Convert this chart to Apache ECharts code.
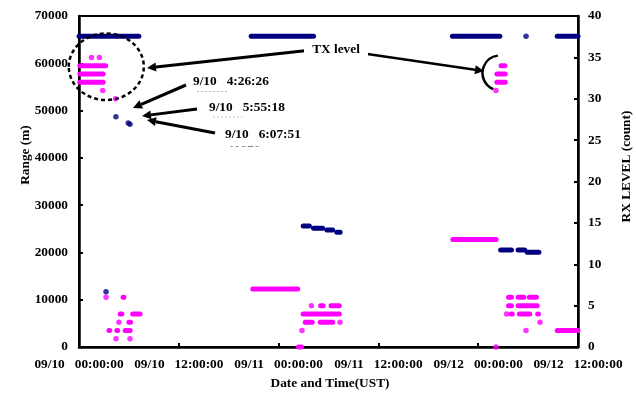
<!DOCTYPE html>
<html>
<head>
<meta charset="utf-8">
<script src="https://cdn.jsdelivr.net/npm/echarts@6/dist/echarts.min.js"></script>
<style>
html,body{margin:0;padding:0;background:#fff;}
#chart{width:636px;height:396px;}
</style>
</head>
<body>
<div id="chart"></div>
<script>
// ---- data (hours since 09/10 00:00:00 UST) ----
const xTickLabels = ['09/10   00:00:00','09/10   12:00:00','09/11   00:00:00','09/11   12:00:00','09/12   00:00:00','09/12   12:00:00'];

// Range (m): continuous runs [startHour, endHour, range]
const rangeSegments = [
  [0.0, 7.2, 65700], [20.7, 28.2, 65700], [44.9, 50.6, 65700], [57.5, 60.0, 65700],
  [26.95, 27.7, 25600], [28.2, 29.3, 25100], [29.8, 30.5, 24750], [31.0, 31.4, 24250],
  [50.7, 52.0, 20500], [52.8, 53.6, 20500], [53.9, 55.3, 20050]
];
// Range (m): isolated samples [hour, range]
const rangeDots = [[3.25, 11700], [4.44, 48700], [5.92, 47350], [6.13, 47100], [53.75, 65700]];

// RX level (count): continuous runs [startHour, endHour, count]
const rxSegments = [
  [0.1, 3.2, 34], [0.1, 2.9, 33], [0.1, 2.9, 32],
  [5.3, 5.4, 6], [4.95, 5.15, 4], [6.45, 7.35, 4], [6.0, 6.2, 3],
  [3.6, 3.7, 2], [4.55, 4.65, 2], [5.55, 6.15, 2],
  [20.9, 26.3, 7], [29.05, 29.35, 5], [30.3, 31.3, 5], [26.95, 31.3, 4],
  [27.2, 28.05, 3], [29.0, 30.5, 3], [26.4, 26.75, 0],
  [44.95, 50.15, 13], [51.65, 52.0, 6], [52.8, 53.5, 6], [54.15, 55.0, 6],
  [51.65, 52.0, 5], [52.8, 55.1, 5], [51.95, 52.1, 4], [52.95, 54.2, 4], [55.15, 55.25, 4],
  [57.5, 60.0, 2],
  [50.75, 51.2, 34], [50.25, 51.25, 33], [50.25, 51.25, 32]
];
// RX level (count): isolated samples [hour, count]
const rxDots = [
  [1.5, 35], [2.45, 35], [2.85, 31], [4.4, 30],
  [3.25, 6], [4.8, 3], [4.45, 1], [6.13, 1],
  [27.95, 5], [31.38, 3], [26.81, 2],
  [51.42, 4], [55.43, 3], [53.75, 2], [50.14, 0], [50.14, 31]
];

const FONT = '"Liberation Serif", "Times New Roman", serif';
const FS = 13.33;
const NAVY = '#000080';
const MAGENTA = '#ff00ff';

function segRenderer(color) {
  return function (params, api) {
    const p1 = api.coord([api.value(0), api.value(2)]);
    const p2 = api.coord([api.value(1), api.value(2)]);
    return {
      type: 'line',
      shape: {x1: p1[0], y1: p1[1], x2: p2[0], y2: p2[1]},
      style: {stroke: color, lineWidth: 5, lineCap: 'round', fill: null}
    };
  };
}

function arrow(x1, y1, x2, y2, w) {
  const dx = x2 - x1, dy = y2 - y1, len = Math.sqrt(dx*dx + dy*dy);
  const ux = dx/len, uy = dy/len, hl = 9, hw = 4.5;
  const bx = x2 - ux*hl, by = y2 - uy*hl;
  return [
    {type:'line', shape:{x1:x1, y1:y1, x2:bx, y2:by}, style:{stroke:'#000', lineWidth:w||3}, z:100},
    {type:'polygon', shape:{points:[[x2,y2],[bx - uy*hw, by + ux*hw],[bx + uy*hw, by - ux*hw]]}, style:{fill:'#000'}, z:100}
  ];
}

function txt(text, x, y, align, rot) {
  return {type:'text', x:x, y:y, rotation: rot||0, z:102,
    style:{text:text, fill:'#000', font:'bold ' + FS + 'px ' + FONT, textAlign: align||'left', textVerticalAlign:'middle'}};
}

const chart = echarts.init(document.getElementById('chart'), null, {renderer:'canvas'});

const axisLabelStyle = {color:'#000', fontFamily:FONT, fontWeight:'bold', fontSize:FS};

const graphic = [].concat(
  [{type:'ellipse', shape:{cx:106.3, cy:66.7, rx:37.5, ry:33.3}, style:{fill:null, stroke:'#000', lineWidth:2.5, lineDash:[4,3]}, z:100}],
  [{type:'arc', shape:{cx:500, cy:73, r:17.5, startAngle:1.96, endAngle:4.59, clockwise:true}, style:{stroke:'#000', lineWidth:2.5, fill:null}, z:100}],
  arrow(330, 48, 147, 68),
  arrow(340, 50, 484, 71, 2.5),
  arrow(186, 85, 133, 108),
  arrow(197, 109, 142, 116),
  arrow(215, 133, 147, 120),
  [{type:'rect', shape:{x:304, y:41, width:64, height:17}, style:{fill:'#fff'}, z:101}],
  [txt('TX level', 336, 50, 'center')],
  [txt('9/10   4:26:26', 193, 82)],
  [{type:'line', shape:{x1:197, y1:91.5, x2:228, y2:91.5}, style:{stroke:'#bbb', lineWidth:1, lineDash:[2,2]}, z:102}],
  [txt('9/10   5:55:18', 209, 107.5)],
  [{type:'line', shape:{x1:213, y1:117, x2:242, y2:117}, style:{stroke:'#bbb', lineWidth:1, lineDash:[2,2]}, z:102}],
  [txt('9/10   6:07:51', 225, 135)],
  [txt('40870', 227, 151)],
  [{type:'rect', shape:{x:220, y:146.5, width:50, height:12}, style:{fill:'#fff'}, z:103}],
  [txt('Range (m)', 26, 155, 'center', Math.PI/2)],
  [txt('RX LEVEL (count)', 627, 166.5, 'center', Math.PI/2)],
  [txt('Date and Time(UST)', 330, 384, 'center')]
);

chart.setOption({
  animation: false,
  backgroundColor: '#fff',
  grid: {left:79, right:58, top:16, bottom:49, show:true, borderColor:'#000', borderWidth:2, backgroundColor:'transparent'},
  xAxis: {
    type:'value', min:0, max:60, interval:12,
    axisLine:{show:true, lineStyle:{color:'#000', width:2.5}},
    axisTick:{show:true, inside:true, length:4, lineStyle:{color:'#000', width:2}},
    axisLabel:Object.assign({margin:11, formatter:function(v){ return xTickLabels[Math.round(v/12)]; }}, axisLabelStyle),
    splitLine:{show:false}
  },
  yAxis: [
    {type:'value', min:0, max:70000, interval:10000, position:'left',
     axisLine:{show:true, lineStyle:{color:'#000', width:2.5}},
     axisTick:{show:true, inside:true, length:4, lineStyle:{color:'#000', width:2}},
     axisLabel:Object.assign({margin:11, formatter:function(v){ return String(v); }}, axisLabelStyle),
     splitLine:{show:false}},
    {type:'value', min:0, max:40, interval:5, position:'right',
     axisLine:{show:true, lineStyle:{color:'#000', width:2.5}},
     axisTick:{show:true, inside:true, length:4, lineStyle:{color:'#000', width:2}},
     axisLabel:Object.assign({margin:10, formatter:function(v){ return String(v); }}, axisLabelStyle),
     splitLine:{show:false}}
  ],
  series: [
    {type:'custom', name:'RX level runs', yAxisIndex:1, data:rxSegments, encode:{x:[0,1], y:2}, renderItem:segRenderer(MAGENTA), clip:false, z:2},
    {type:'scatter', name:'RX level', yAxisIndex:1, data:rxDots, symbolSize:5.5, itemStyle:{color:MAGENTA}, z:2},
    {type:'custom', name:'Range runs', yAxisIndex:0, data:rangeSegments, encode:{x:[0,1], y:2}, renderItem:segRenderer(NAVY), clip:false, z:3},
    {type:'scatter', name:'Range', yAxisIndex:0, data:rangeDots, symbolSize:5.5, itemStyle:{color:NAVY}, z:3}
  ],
  graphic: graphic
});
</script>
</body>
</html>
